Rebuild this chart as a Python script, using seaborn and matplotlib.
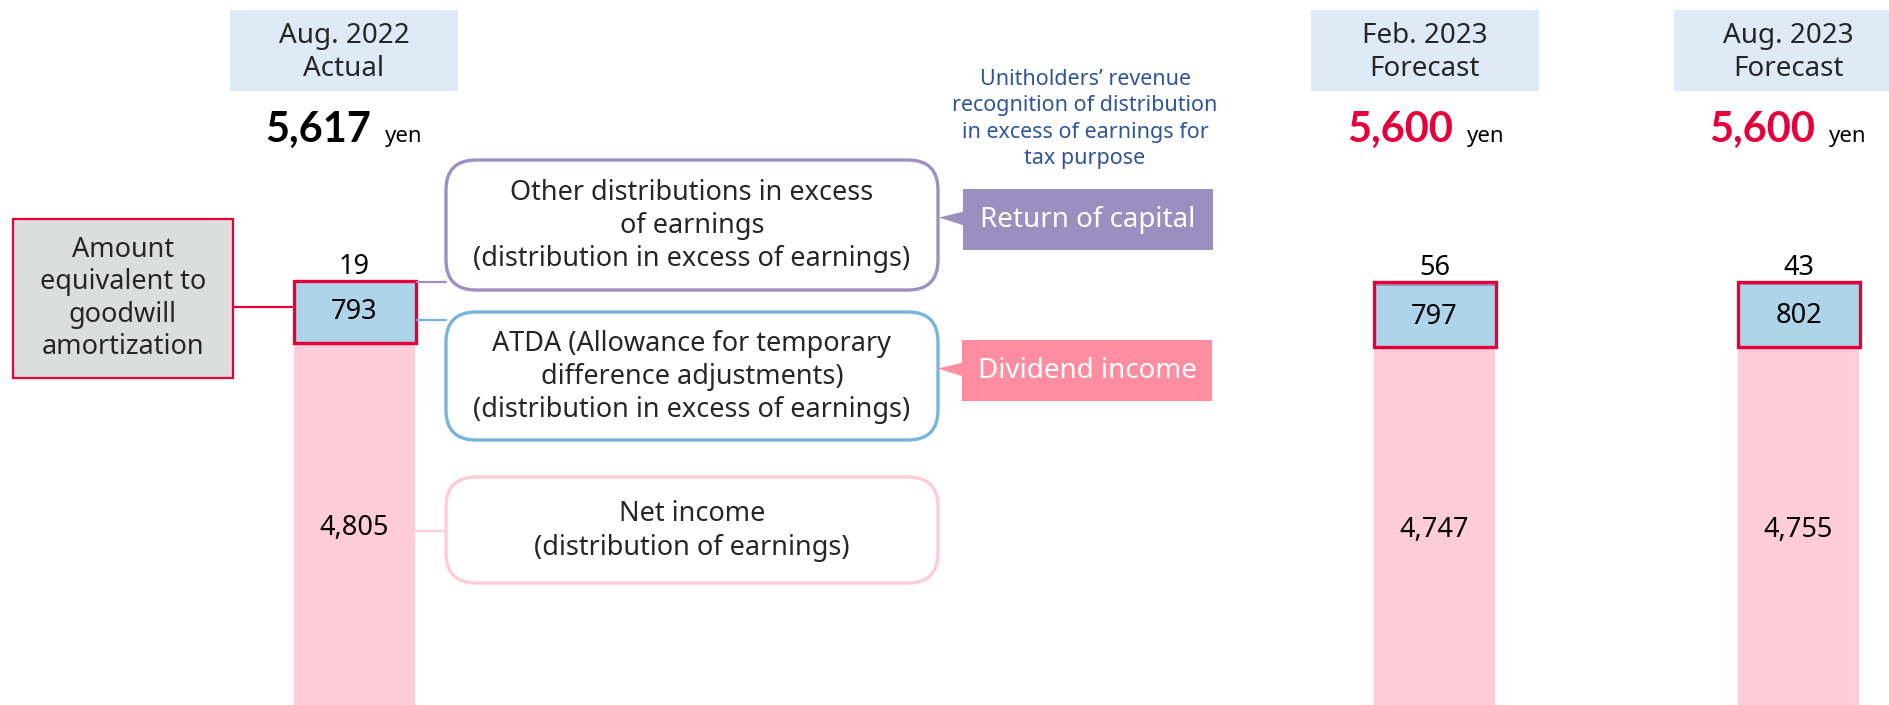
import matplotlib
matplotlib.use("Agg")
import matplotlib.pyplot as plt
from matplotlib.patches import Rectangle, FancyBboxPatch, Polygon
import seaborn as sns
import pandas as pd

# ---------------- data ----------------
periods = ["Aug. 2022\nActual", "Feb. 2023\nForecast", "Aug. 2023\nForecast"]
net_income = [4805, 4747, 4755]      # distribution of earnings
atda = [793, 797, 802]               # ATDA
other_excess = [19, 56, 43]          # other distributions in excess of earnings
totals = [5617, 5600, 5600]
total_labels = ["5,617", "5,600", "5,600"]

# ---------------- style ----------------
sns.set_style("white")
plt.rcParams["font.family"] = ["Noto Sans", "DejaVu Sans"]

PINK = "#FFCCD8"
BLUE = "#AED4E9"
PURPLE = "#9D91C2"
RED = "#E6003A"
HEAD_BG = "#DEEAF6"
GRAY_BG = "#DCDDDD"
TXT_BLUE = "#2F5597"

W, H = 1889, 705
fig = plt.figure(figsize=(W / 100, H / 100), dpi=100)
ax = fig.add_axes([0, 0, 1, 1])

# layout (pixel centres of bars)
bar_x = [354.5, 1434.5, 1798.5]
bar_w = 121

df = pd.DataFrame({"period": periods, "x": bar_x, "net": net_income,
                   "atda": atda, "other": other_excess})
df["lvl2"] = df["net"] + df["atda"]
df["lvl3"] = df["lvl2"] + df["other"]

wfrac = bar_w / min(b - a for a, b in zip(sorted(bar_x)[:-1], sorted(bar_x)[1:]))
for col, c in [("lvl3", PURPLE), ("lvl2", BLUE), ("net", PINK)]:
    sns.barplot(data=df, x="x", y=col, native_scale=True, width=wfrac,
                color=c, saturation=1, errorbar=None, linewidth=0, ax=ax)

ax.set_xlim(0, W)
ax.set_ylim(104, 9260)
ax.axis("off")

FS = 19.5
for i, row in df.iterrows():
    x = row["x"]
    # red frame around goodwill-equivalent part
    ax.add_patch(Rectangle((x - bar_w / 2 - 0.5, row["net"]), bar_w + 1,
                           row["atda"] + row["other"], fill=False,
                           edgecolor=RED, lw=2.4, zorder=5))
    ax.annotate(f"{row['other']:,}", (x, row["lvl3"]), xytext=(0, 14),
                textcoords="offset pixels", ha="center", va="center",
                fontsize=FS, color="black")
    ax.text(x, row["net"] + row["atda"] / 2, f"{row['atda']:,}", ha="center",
            va="center", fontsize=FS, color="black", zorder=6)
    ax.text(x, row["net"] / 2, f"{row['net']:,}", ha="center", va="center",
            fontsize=FS, color="black")

# ---------------- overlay in pixel coordinates ----------------
ov = fig.add_axes([0, 0, 1, 1], facecolor="none")
ov.set_xlim(0, W)
ov.set_ylim(H, 0)
ov.axis("off")

# header boxes
head_left = [230, 1311, 1674]
head_w = 228
for left, lab in zip(head_left, periods):
    ov.add_patch(Rectangle((left, 10), head_w, 81, facecolor=HEAD_BG,
                           edgecolor="none", clip_on=False))
    ov.text(left + head_w / 2, 52.5, lab, ha="center", va="center",
            fontsize=20, linespacing=1.22)

# totals
num_right = [371, 1453, 1815]
for i, (r, lab) in enumerate(zip(num_right, total_labels)):
    col = "black" if i == 0 else RED
    ov.text(r, 142, lab, ha="right", va="baseline", fontsize=30,
            fontweight="bold", color=col, family=["Lato", "DejaVu Sans"])
    ov.text(r + 14, 142, "yen", ha="left", va="baseline", fontsize=16,
            color="black")

# gray goodwill box
ov.add_patch(Rectangle((13, 219), 220, 159, facecolor=GRAY_BG, edgecolor=RED,
                       lw=1.6, zorder=3))
ov.text(123, 298.5, "Amount\nequivalent to\ngoodwill\namortization",
        ha="center", va="center", fontsize=FS, linespacing=1.22, zorder=4)
ov.plot([233, 292], [307, 307], color=RED, lw=1.6, zorder=2)


def rbox(x0, y0, x1, y1, ec, text):
    ov.add_patch(FancyBboxPatch((x0, y0), x1 - x0, y1 - y0,
                                boxstyle="round,pad=0,rounding_size=30",
                                facecolor="white", edgecolor=ec, lw=2.4,
                                zorder=3))
    ov.text((x0 + x1) / 2, (y0 + y1) / 2 + 1, text, ha="center", va="center",
            fontsize=FS, linespacing=1.25, zorder=4)


PURPLE_LINE = "#9D8FC4"
BLUE_LINE = "#78B5DA"
PINK_LINE = "#FFCCD8"

rbox(446, 160, 938, 290, PURPLE_LINE,
     "Other distributions in excess\nof earnings\n(distribution in excess of earnings)")
rbox(446, 312, 938, 440, BLUE_LINE,
     "ATDA (Allowance for temporary\ndifference adjustments)\n(distribution in excess of earnings)")
rbox(446, 477, 938, 583, PINK_LINE,
     "Net income\n(distribution of earnings)")

ov.plot([417, 446], [282, 282], color=PURPLE_LINE, lw=1.6, zorder=2)
ov.plot([417, 446], [320, 320], color=BLUE_LINE, lw=1.6, zorder=2)
ov.plot([415, 446], [531, 531], color=PINK_LINE, lw=1.6, zorder=2)

# callout tags
def tag(x0, y0, x1, y1, fc, text):
    ym = (y0 + y1) / 2
    ov.add_patch(Rectangle((x0, y0), x1 - x0, y1 - y0, facecolor=fc,
                           edgecolor="none", zorder=3))
    ov.add_patch(Polygon([(x0 + 1, ym - 8), (x0 - 24, ym - 2), (x0 + 1, ym + 6)],
                         closed=True, facecolor=fc, edgecolor="none", zorder=3))
    ov.text((x0 + x1) / 2, ym, text, ha="center", va="center", fontsize=20,
            color="white", zorder=4)


tag(963, 189, 1213, 250, "#9B8FC0", "Return of capital")
tag(962, 340, 1212, 401, "#FF8DA2", "Dividend income")

ov.text(1085, 119,
        "Unitholders\u2019 revenue\nrecognition of distribution\nin excess of earnings for\ntax purpose",
        ha="center", va="center", fontsize=15.5, color=TXT_BLUE, linespacing=1.32)

fig.savefig("out.png", dpi=100)
